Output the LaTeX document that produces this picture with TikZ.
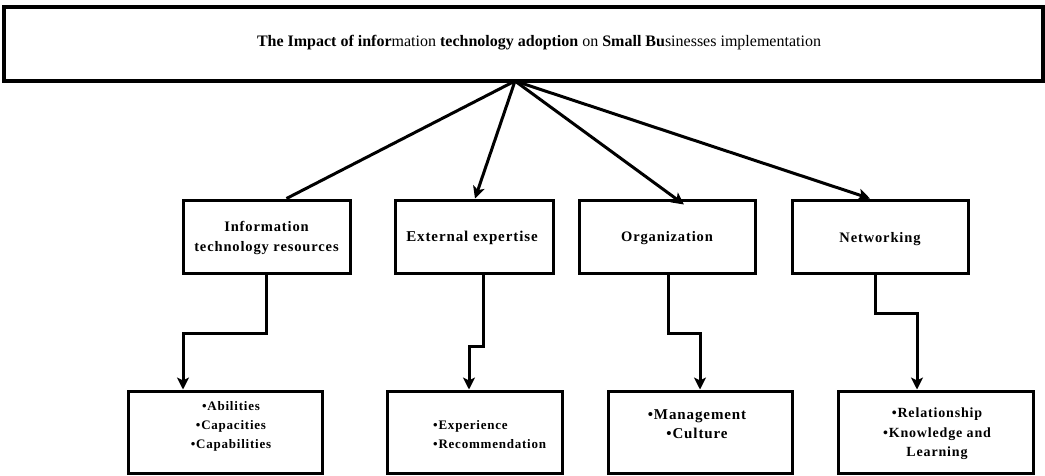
\documentclass[tikz,border=0pt]{standalone}
\usepackage{fontspec}
\setmainfont{Liberation Serif}
\newfontfamily\lsf[LetterSpace=6]{Liberation Serif}
\usetikzlibrary{arrows.meta}
\tikzset{
  box/.style={draw, line width=3pt, inner sep=0pt, align=center, fill=white},
  txt/.style={inner sep=0pt, align=center, font=\lsf\bfseries\fontsize{13}{19}\selectfont},
  conn/.style={line width=3pt},
  arr/.style={line width=3pt, -{Stealth[length=12pt,width=12pt,inset=3pt]}},
}
\begin{document}
\begin{tikzpicture}[x=1pt,y=-1pt]
\useasboundingbox (0,0) rectangle (1045,475);
% title
\node[box, line width=3.5pt, minimum width=1039pt, minimum height=74pt] (title) at (523.5,44) {};
\node[inner sep=0pt, font=\fontsize{16}{19}\selectfont] (titlet) at (539,43)
  {\textbf{The Impact of infor}mation \textbf{technology adoption} on \textbf{Small Bu}sinesses implementation};
\coordinate (hub) at (515,81);
% middle boxes
\node[box, minimum width=167pt, minimum height=73pt] (m1) at (266.5,236.5) {};
\node[box, minimum width=158pt, minimum height=73pt] (m2) at (474,236.5) {};
\node[box, minimum width=176pt, minimum height=73pt] (m3) at (667,236.5) {};
\node[box, minimum width=176pt, minimum height=73pt] (m4) at (880,236.5) {};
\node[txt, font=\lsf\bfseries\fontsize{14.5}{20}\selectfont] (m1t) at (266.5,238) {Information\\technology resources};
\node[txt, font=\lsf\bfseries\fontsize{15}{20}\selectfont] (m2t) at (472,238) {External expertise};
\node[txt, font=\lsf\bfseries\fontsize{14.5}{20}\selectfont] (m3t) at (667,238) {Organization};
\node[txt, font=\lsf\bfseries\fontsize{14.5}{20}\selectfont] (m4t) at (880,239) {Networking};
% bottom boxes
\node[box, minimum width=194pt, minimum height=82pt] (b1) at (225,432) {};
\node[box, minimum width=175pt, minimum height=82pt] (b2) at (474.5,432) {};
\node[box, minimum width=184pt, minimum height=82pt] (b3) at (700,432) {};
\node[box, minimum width=195pt, minimum height=82pt] (b4) at (935.5,432) {};
\node[txt] (b1t) at (231,426) {\textbullet Abilities\\\textbullet Capacities\\\textbullet Capabilities};
\node[txt, align=left, anchor=west] (b2t) at (433,435) {\textbullet Experience\\\textbullet Recommendation};
\node[txt, font=\lsf\bfseries\fontsize{15}{19}\selectfont] (b3t) at (697,424) {\textbullet Management\\\textbullet Culture};
\node[txt, font=\lsf\bfseries\fontsize{14}{19.5}\selectfont] (b4t) at (937,434) {\textbullet Relationship\\\textbullet Knowledge and\\Learning};
% connectors from title
\draw[conn] (hub) -- ([xshift=20pt]m1.north);
\draw[arr] (hub) -- ([xshift=1pt]m2.north);
\draw[arr] (hub) -- ([xshift=17pt,yshift=-6pt]m3.north);
\draw[arr] (hub) -- ([xshift=-10pt]m4.north);
% elbow connectors
\draw[arr] (m1.south) -- ++(0,59) -| ([xshift=-42pt]b1.north);
\draw[arr] ([xshift=9pt]m2.south) -- ++(0,72) -| ([xshift=-5.5pt]b2.north);
\draw[arr] ([xshift=1pt]m3.south) -- ++(0,59) -| (b3.north);
\draw[arr] ([xshift=-5pt]m4.south) -- ++(0,39) -| ([xshift=-18.5pt]b4.north);
\end{tikzpicture}
\end{document}
